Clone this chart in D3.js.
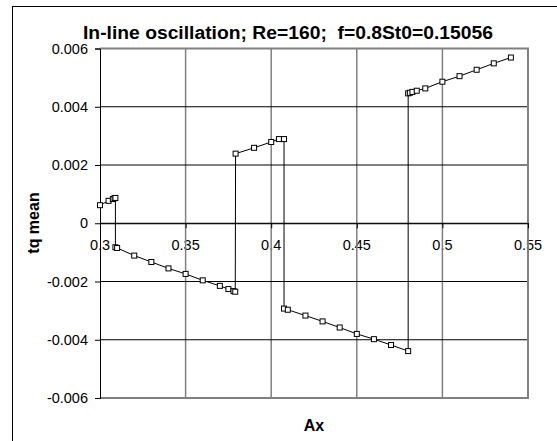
<!DOCTYPE html>
<html>
<head>
<meta charset="utf-8">
<script src="https://cdn.jsdelivr.net/npm/d3@7"></script>
<style>
  body { margin: 0; background: #fff; }
  svg { display: block; font-family: "Liberation Sans", Arial, sans-serif; }
</style>
</head>
<body>
<div id="chart"></div>
<script>
var width = 557;
var height = 441;

// series, in plotting order (jumps are vertical segments)
var ax = [0.3, 0.305, 0.3075, 0.3085, 0.309,
  0.309, 0.31, 0.32, 0.33, 0.34, 0.35, 0.36, 0.37, 0.375, 0.378, 0.379,
  0.3792, 0.39, 0.4, 0.4045, 0.4075,
  0.4075, 0.4097, 0.42, 0.43, 0.44, 0.45, 0.46, 0.47, 0.48,
  0.48, 0.481, 0.4825, 0.485, 0.49, 0.5, 0.51, 0.52, 0.53, 0.54];
var tqMean = [0.00062, 0.00077, 0.00083, 0.00086, 0.00087,
  -0.000825, -0.00085, -0.00111, -0.00133, -0.00155, -0.00174, -0.00196, -0.00215, -0.00226, -0.00233, -0.00235,
  0.00239, 0.00259, 0.00279, 0.00289, 0.00289,
  -0.00293, -0.00297, -0.00317, -0.00337, -0.00358, -0.0038, -0.00398, -0.00418, -0.00439,
  0.00446, 0.00448, 0.00451, 0.00455, 0.00463, 0.00486, 0.00505, 0.00527, 0.00549, 0.00569];

var xTicks = [0.3, 0.35, 0.4, 0.45, 0.5, 0.55];
var yTicks = [-0.006, -0.004, -0.002, 0, 0.002, 0.004, 0.006];
var xTickLabels = ["0.3", "0.35", "0.4", "0.45", "0.5", "0.55"];
var yTickLabels = ["-0.006", "-0.004", "-0.002", "0", "0.002", "0.004", "0.006"];

var title = "In-line oscillation; Re=160;  f=0.8St0=0.15056";

var points = ax.map(function(d, i) { return [d, tqMean[i]]; });

var x = d3.scaleLinear().domain([0.3, 0.55]).range([100, 528]);
var y = d3.scaleLinear().domain([-0.006, 0.006]).range([398, 48.5]);

var svg = d3.select("#chart").append("svg")
    .attr("width", width)
    .attr("height", height);

svg.append("rect").attr("width", width).attr("height", height).attr("fill", "#fff");

// chart area frame (runs off the right and bottom edges)
svg.append("rect")
    .attr("x", 12.5).attr("y", 6.5)
    .attr("width", 560).attr("height", 450)
    .attr("fill", "none")
    .attr("stroke", "#000")
    .attr("stroke-width", 1);

// title (keep the double space)
svg.append("text")
    .attr("x", 288).attr("y", 39)
    .attr("text-anchor", "middle")
    .attr("font-weight", "bold")
    .attr("font-size", "18px")
    .attr("textLength", 410)
    .attr("lengthAdjust", "spacingAndGlyphs")
    .style("white-space", "pre")
    .text(title);

// tick labels drawn first, lines go over them
svg.append("g").selectAll("text")
    .data(xTicks)
  .enter().append("text")
    .attr("x", function(d) { return x(d); })
    .attr("y", y(0) + 27)
    .attr("text-anchor", "middle")
    .attr("font-size", "14.5px")
    .text(function(d, i) { return xTickLabels[i]; });

svg.append("g").selectAll("text")
    .data(yTicks)
  .enter().append("text")
    .attr("x", 88)
    .attr("y", function(d) { return y(d) + 5; })
    .attr("text-anchor", "end")
    .attr("font-size", "14.5px")
    .text(function(d, i) { return yTickLabels[i]; });

// vertical gridlines (grey)
svg.append("g").selectAll("line")
    .data(xTicks.slice(1))
  .enter().append("line")
    .attr("x1", function(d) { return x(d); })
    .attr("x2", function(d) { return x(d); })
    .attr("y1", y(0.006)).attr("y2", y(-0.006))
    .attr("stroke", "#808080")
    .attr("stroke-width", 1.5);

// horizontal gridlines (black)
svg.append("g").selectAll("line")
    .data(yTicks.slice(1))
  .enter().append("line")
    .attr("x1", x(0.3)).attr("x2", x(0.55))
    .attr("y1", function(d) { return y(d); })
    .attr("y2", function(d) { return y(d); })
    .attr("stroke", "#000")
    .attr("stroke-width", 1);

// plot border
svg.append("path")
    .attr("d", "M" + x(0.3) + "," + y(0.006) + "H" + x(0.55) + "V" + y(-0.006) + "H" + x(0.3))
    .attr("fill", "none")
    .attr("stroke", "#808080")
    .attr("stroke-width", 2);

// y axis with outward ticks
var yAxis = d3.axisLeft(y).tickValues(yTicks).tickSize(5).tickFormat("");
svg.append("g")
    .attr("transform", "translate(" + x(0.3) + ",0)")
    .call(yAxis)
    .call(function(g) {
      g.select(".domain").attr("stroke", "#000");
      g.selectAll(".tick line").attr("stroke", "#000");
    });

// x axis at zero, ticks hanging down
var xAxis = d3.axisBottom(x).tickValues(xTicks).tickSize(5).tickSizeOuter(0).tickFormat("");
svg.append("g")
    .attr("transform", "translate(0," + y(0) + ")")
    .call(xAxis)
    .call(function(g) {
      g.select(".domain").attr("stroke", "#000");
      g.selectAll(".tick line").attr("stroke", "#000");
    });

// series line
svg.append("path")
    .datum(points)
    .attr("fill", "none")
    .attr("stroke", "#000")
    .attr("stroke-width", 1)
    .attr("d", d3.line()
      .x(function(d) { return x(d[0]); })
      .y(function(d) { return y(d[1]); }));

// square markers
svg.append("g").selectAll("rect")
    .data(points)
  .enter().append("rect")
    .attr("x", function(d) { return x(d[0]) - 2.5; })
    .attr("y", function(d) { return y(d[1]) - 2.5; })
    .attr("width", 5).attr("height", 5)
    .attr("fill", "#fff")
    .attr("stroke", "#000")
    .attr("stroke-width", 1);

// axis titles
svg.append("text")
    .attr("x", 314).attr("y", 431)
    .attr("text-anchor", "middle")
    .attr("font-weight", "bold")
    .attr("font-size", "16px")
    .text("Ax");

svg.append("text")
    .attr("transform", "translate(39,223) rotate(-90)")
    .attr("text-anchor", "middle")
    .attr("font-weight", "bold")
    .attr("font-size", "16px")
    .text("tq mean");
</script>
</body>
</html>
